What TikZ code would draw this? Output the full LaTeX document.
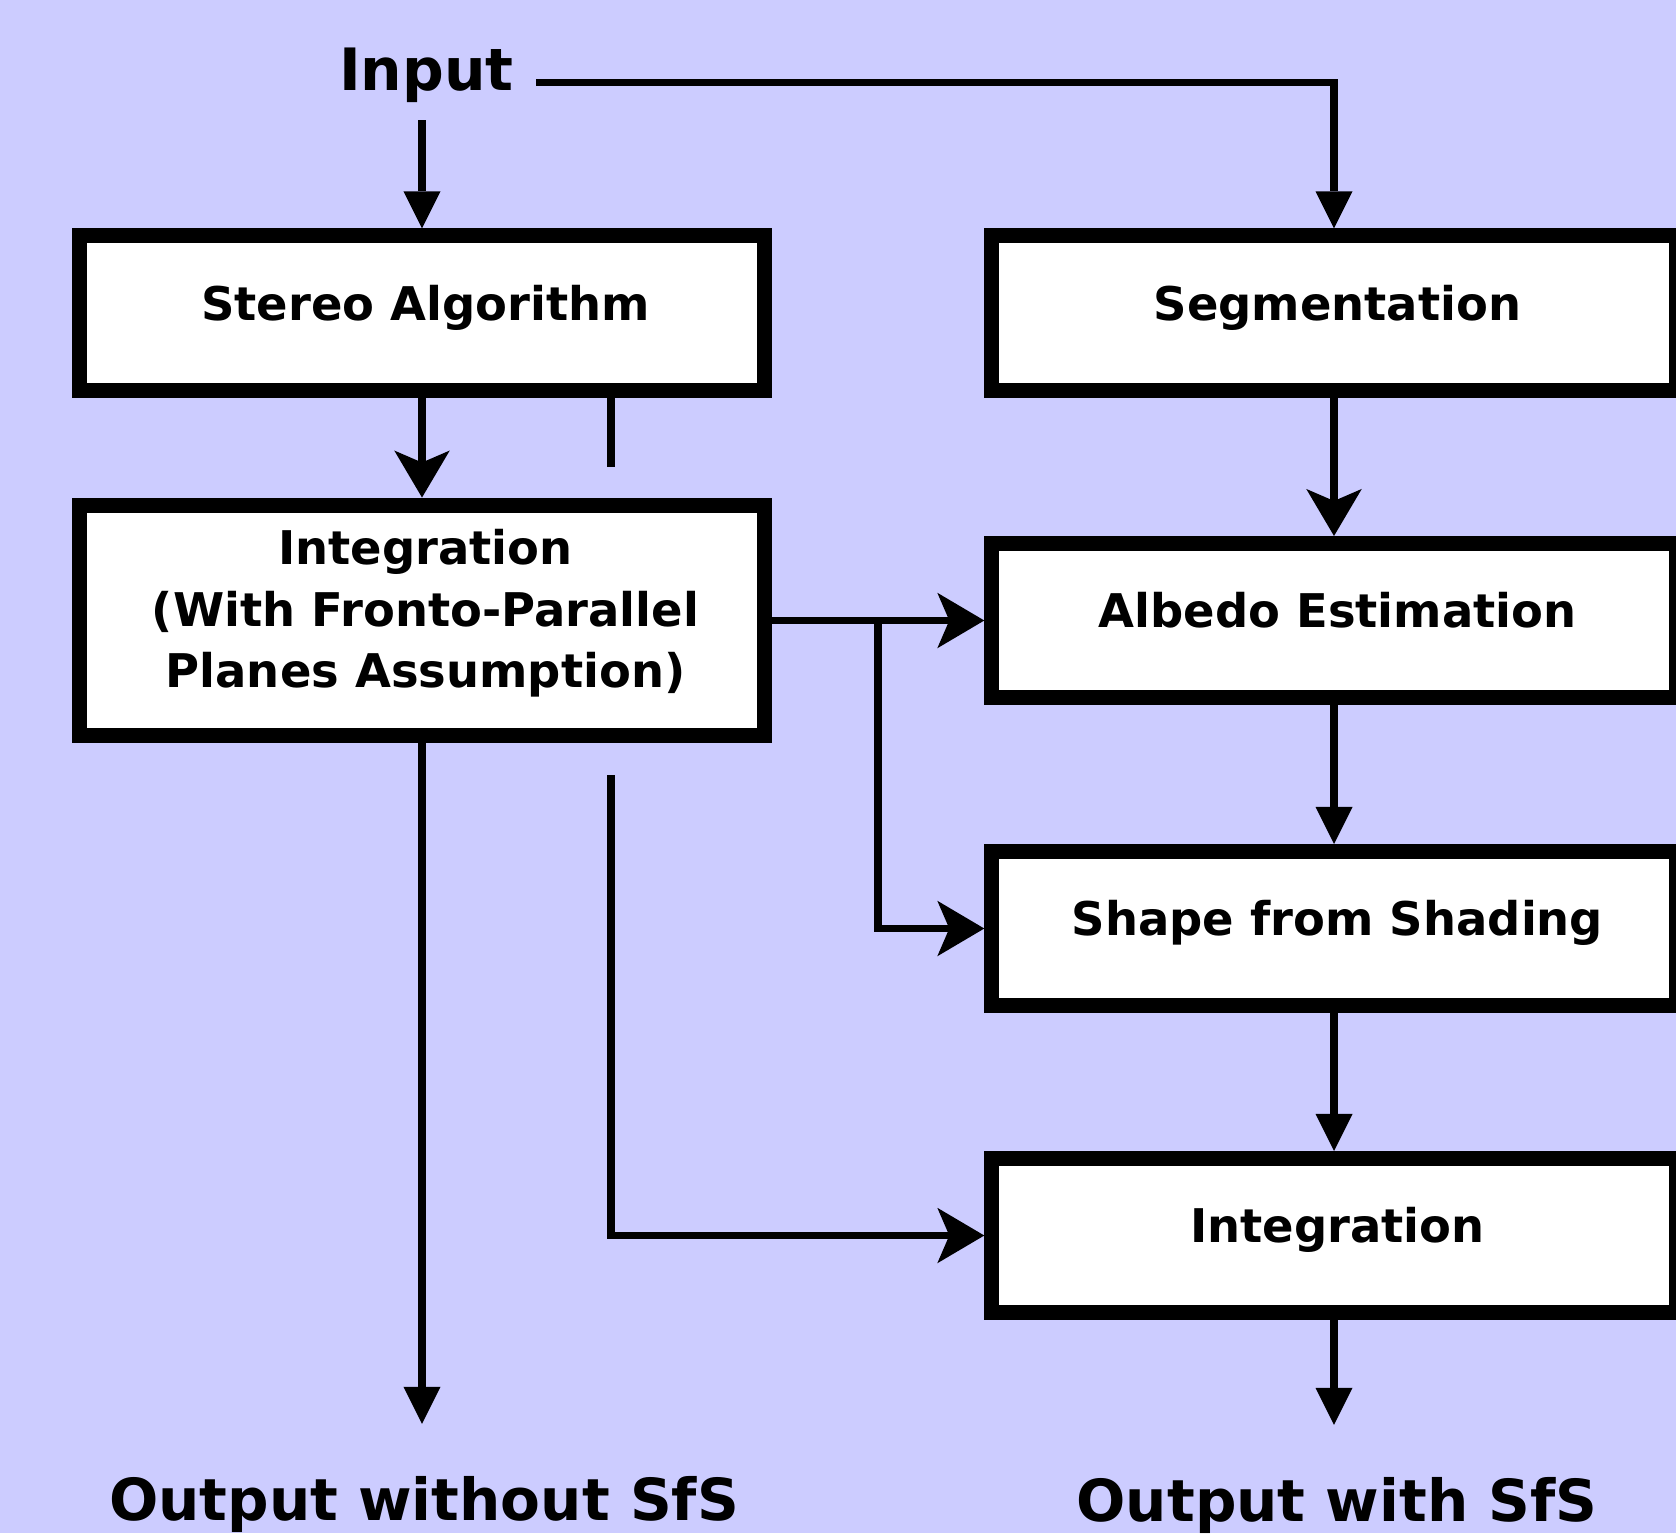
\documentclass[tikz,border=0pt]{standalone}
\usepackage{fontspec}
\setmainfont{DejaVu Sans}
\usetikzlibrary{arrows.meta}
\definecolor{bgblue}{RGB}{204,204,255}
\newcommand{\txtnudge}{\hspace*{0.07cm}}
\begin{document}
\begin{tikzpicture}[x=0.01cm,y=-0.01cm,
  box/.style={draw=black, fill=white, line width=0.15cm, minimum width=6.84cm,
    minimum height=1.54cm, inner sep=0pt, align=center,
    font=\bfseries\fontsize{13.2pt}{17.44pt}\selectfont},
  onebox/.style={box, text height=10.1pt, text depth=5.9pt},
  conn/.style={line width=0.072cm, draw=black},
  tri/.style={conn, -{Triangle[length=0.37cm,width=0.37cm,line width=0pt]}},
  stl/.style={conn, -{Stealth[length=0.47cm,width=0.555cm,inset=0.12cm,line width=0pt]}},
  outtxt/.style={font=\bfseries\fontsize{16.5pt}{20pt}\selectfont, inner sep=0pt,
    outer ysep=0.52cm, anchor=base}
]
\fill[bgblue] (0,0) rectangle (1676,1533);
\clip (0,0) rectangle (1676,1533);

% nodes
\node[font=\bfseries\fontsize{16.6pt}{20pt}\selectfont, anchor=base,
  text height=12.1pt, text depth=7.46pt, inner xsep=6.2pt, inner ysep=0.8pt]
  (input) at (426.5,90.7) {Input};
\node[onebox] (stereo) at (422,313) {\txtnudge Stereo Algorithm};
\node[box, minimum height=2.308cm] (intL) at (422,620.5)
  {\txtnudge Integration\\\txtnudge (With Fronto-Parallel\\\txtnudge Planes Assumption)\rule[-6.8pt]{0pt}{6.8pt}};
\node[onebox] (seg) at (1334,313) {\txtnudge Segmentation};
\node[onebox] (albedo) at (1334,620.5) {\txtnudge Albedo Estimation};
\node[onebox] (sfs) at (1334,928.5) {\txtnudge Shape from Shading};
\node[onebox] (intR) at (1334,1235.5) {\txtnudge Integration};
\node[outtxt] (outL) at (424,1520) {Output without SfS};
\node[outtxt] (outR) at (1337,1521) {Output with SfS};

% free ends / branch points
\coordinate (stubA) at (611,466.7);
\coordinate (stubB) at (611,775);
\coordinate (br) at (878,620.5);

% connectors
\draw[tri] (input.south -| stereo.north) -- (stereo.north);
\draw[tri] (input.east) -| (seg.north);
\draw[stl] (stereo.south) -- (intL.north);
\draw[conn] (stereo.south -| stubA) -- (stubA);
\draw[stl] (intL.east) -- (albedo.west);
\draw[stl] (br) |- (sfs.west);
\draw[stl] (stubB) |- (intR.west);
\draw[tri] (intL.south) -- (intL.south |- outL.north);
\draw[stl] (seg.south) -- (albedo.north);
\draw[tri] (albedo.south) -- (sfs.north);
\draw[tri] (sfs.south) -- (intR.north);
\draw[tri] (intR.south) -- (intR.south |- outR.north);
\end{tikzpicture}
\end{document}
